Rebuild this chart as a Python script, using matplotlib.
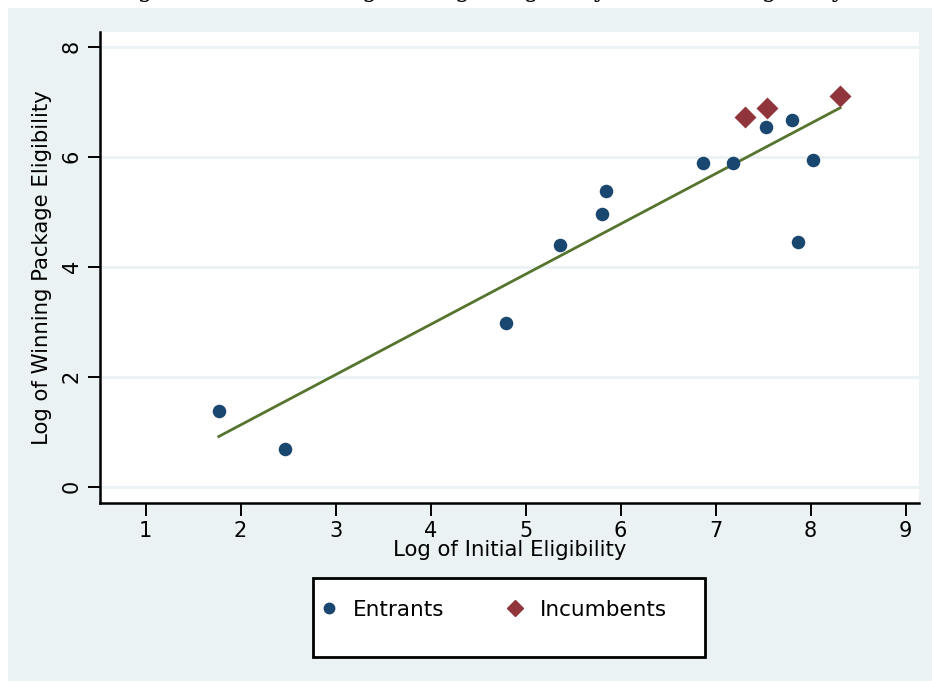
import numpy as np
import matplotlib
matplotlib.use("Agg")
import matplotlib.pyplot as plt
from matplotlib.patches import Rectangle
from matplotlib.lines import Line2D

# ---- data ----
entrants_x = [1.77, 2.47, 4.79, 5.36, 5.80, 5.85, 6.87, 7.18, 7.53, 7.80, 8.02, 7.87]
entrants_y = [1.38, 0.69, 2.98, 4.40, 4.95, 5.38, 5.89, 5.89, 6.55, 6.67, 5.94, 4.44]
incumb_x = [7.31, 7.54, 8.31]
incumb_y = [6.73, 6.89, 7.11]
fit_x = [1.77, 8.31]
fit_y = [0.91, 6.89]
xticks = [1, 2, 3, 4, 5, 6, 7, 8, 9]
yticks = [0, 2, 4, 6, 8]
xlabel = "Log of Initial Eligibility"
ylabel = "Log of Winning Package Eligibility"
legend_labels = ["Entrants", "Incumbents"]
title = "Regression of Winning Package Eligibility on Initial Eligibility"

BG = "#EAF2F3"
NAVY = "#1A476F"
MAROON = "#90353B"
GREEN = "#55752F"

W, H = 932, 681
fig = plt.figure(figsize=(W / 100, H / 100), dpi=100, facecolor="white")
fig.patches.append(Rectangle((8 / W, 0), 1 - 8 / W, 1 - 8 / H, transform=fig.transFigure,
                             facecolor=BG, edgecolor="none", zorder=-10))

ax = fig.add_axes([100 / W, (H - 503) / H, (919 - 100) / W, (503 - 32) / H])
ax.set_facecolor("white")

ax.plot(fit_x, fit_y, color=GREEN, lw=2.0, zorder=2)
ax.scatter(entrants_x, entrants_y, s=95, color=NAVY, marker="o", zorder=3, linewidths=0)
ax.scatter(incumb_x, incumb_y, s=125, color=MAROON, marker="D", zorder=3, linewidths=0)

ax.set_xlim(0.52, 9.14)
ax.set_ylim(-0.3, 8.27)
ax.set_xticks(xticks)
ax.set_yticks(yticks)
ax.grid(axis="y", color=BG, lw=2)
ax.set_axisbelow(True)
for s in ["top", "right"]:
    ax.spines[s].set_visible(False)
for s in ["left", "bottom"]:
    ax.spines[s].set_linewidth(1.8)
ax.tick_params(axis="both", direction="out", length=9, width=1.4, labelsize=15, pad=4)
for lab in ax.get_yticklabels():
    lab.set_rotation(90)
    lab.set_va("center")

ax.set_xlabel(xlabel, fontsize=15.3, labelpad=-1)
ax.set_ylabel(ylabel, fontsize=15.3, labelpad=7)

# legend frame (Stata-style box with extra bottom room)
fig.patches.append(Rectangle((313 / W, 1 - 657 / H), (705 - 313) / W, (657 - 578) / H,
                             transform=fig.transFigure, facecolor="white",
                             edgecolor="black", lw=2, zorder=5))
handles = [
    Line2D([], [], marker="o", color=NAVY, linestyle="none", markersize=7.5),
    Line2D([], [], marker="D", color=MAROON, linestyle="none", markersize=8),
]
leg = fig.legend(handles, legend_labels, ncol=2, fontsize=15.5,
                 loc="center left", bbox_to_anchor=(307 / W, 1 - 610 / H),
                 frameon=False, borderpad=0, handlelength=1.0, handletextpad=0.63,
                 columnspacing=2.8)
leg.set_zorder(6)

fig.text(476 / W, 1.0 + 2.5 / H, title, ha="center", va="baseline", fontsize=17,
         family="DejaVu Serif")

fig.savefig("out.png", dpi=100, facecolor="white")
